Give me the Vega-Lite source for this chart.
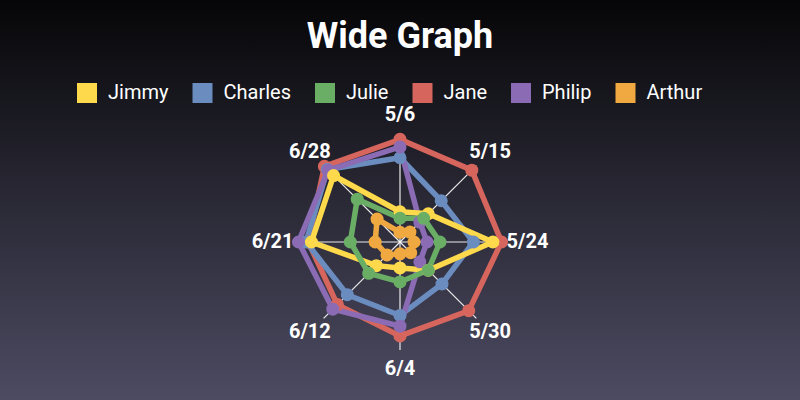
{
  "$schema": "https://vega.github.io/schema/vega-lite/v6.json",
  "width": 800,
  "height": 400,
  "autosize": {"type": "none"},
  "padding": 0,
  "background": "#25242c",
  "title": {
    "text": "Wide Graph",
    "font": "Roboto",
    "fontSize": 36,
    "fontWeight": "bold",
    "color": "#ffffff",
    "anchor": "middle",
    "offset": -56
  },
  "config": {
    "view": {
      "stroke": null,
      "fill": {
        "gradient": "linear",
        "x1": 0, "y1": 0, "x2": 0, "y2": 1,
        "stops": [
          {"offset": 0, "color": "#060608"},
          {"offset": 1, "color": "#4d4b62"}
        ]
      }
    }
  },
  "datasets": {
    "axes": [
      {"date": "5/6"}, {"date": "5/15"}, {"date": "5/24"}, {"date": "5/30"},
      {"date": "6/4"}, {"date": "6/12"}, {"date": "6/21"}, {"date": "6/28"}
    ],
    "scores": [
      {"name": "Jane", "date": "5/6", "value": 95},
      {"name": "Jane", "date": "5/15", "value": 94},
      {"name": "Jane", "date": "5/24", "value": 94},
      {"name": "Jane", "date": "5/30", "value": 90},
      {"name": "Jane", "date": "6/4", "value": 87},
      {"name": "Jane", "date": "6/12", "value": 82},
      {"name": "Jane", "date": "6/21", "value": 85},
      {"name": "Jane", "date": "6/28", "value": 99},
      {"name": "Charles", "date": "5/6", "value": 78},
      {"name": "Charles", "date": "5/15", "value": 54},
      {"name": "Charles", "date": "5/24", "value": 68},
      {"name": "Charles", "date": "5/30", "value": 55},
      {"name": "Charles", "date": "6/4", "value": 68},
      {"name": "Charles", "date": "6/12", "value": 69},
      {"name": "Charles", "date": "6/21", "value": 87},
      {"name": "Charles", "date": "6/28", "value": 95},
      {"name": "Philip", "date": "5/6", "value": 88},
      {"name": "Philip", "date": "5/15", "value": 26},
      {"name": "Philip", "date": "5/24", "value": 25},
      {"name": "Philip", "date": "5/30", "value": 26},
      {"name": "Philip", "date": "6/4", "value": 78},
      {"name": "Philip", "date": "6/12", "value": 88},
      {"name": "Philip", "date": "6/21", "value": 94},
      {"name": "Philip", "date": "6/28", "value": 94},
      {"name": "Jimmy", "date": "5/6", "value": 28},
      {"name": "Jimmy", "date": "5/15", "value": 37},
      {"name": "Jimmy", "date": "5/24", "value": 86},
      {"name": "Jimmy", "date": "5/30", "value": 37},
      {"name": "Jimmy", "date": "6/4", "value": 24},
      {"name": "Jimmy", "date": "6/12", "value": 31},
      {"name": "Jimmy", "date": "6/21", "value": 82},
      {"name": "Jimmy", "date": "6/28", "value": 87},
      {"name": "Julie", "date": "5/6", "value": 22},
      {"name": "Julie", "date": "5/15", "value": 31},
      {"name": "Julie", "date": "5/24", "value": 37},
      {"name": "Julie", "date": "5/30", "value": 37},
      {"name": "Julie", "date": "6/4", "value": 37},
      {"name": "Julie", "date": "6/12", "value": 41},
      {"name": "Julie", "date": "6/21", "value": 46},
      {"name": "Julie", "date": "6/28", "value": 56},
      {"name": "Arthur", "date": "5/6", "value": 9},
      {"name": "Arthur", "date": "5/15", "value": 13},
      {"name": "Arthur", "date": "5/24", "value": 13},
      {"name": "Arthur", "date": "5/30", "value": 14},
      {"name": "Arthur", "date": "6/4", "value": 11},
      {"name": "Arthur", "date": "6/12", "value": 17},
      {"name": "Arthur", "date": "6/21", "value": 23},
      {"name": "Arthur", "date": "6/28", "value": 30}
    ]
  },
  "layer": [
    {
      "data": {"name": "axes"},
      "transform": [
        {"calculate": "indexof(['5/6','5/15','5/24','5/30','6/4','6/12','6/21','6/28'], datum.date) * PI / 4", "as": "angle"},
        {"calculate": "100 * sin(datum.angle)", "as": "ex"},
        {"calculate": "100 * cos(datum.angle)", "as": "ey"},
        {"calculate": "0", "as": "origin"}
      ],
      "mark": {"type": "rule", "color": "#ffffff", "strokeWidth": 1.2, "opacity": 0.9},
      "encoding": {
        "x": {"field": "origin", "type": "quantitative", "scale": {"domain": [-370.37, 370.37], "nice": false, "zero": false}, "axis": null},
        "y": {"field": "origin", "type": "quantitative", "scale": {"domain": [-146.3, 224.07], "nice": false, "zero": false}, "axis": null},
        "x2": {"field": "ex"},
        "y2": {"field": "ey"}
      }
    },
    {
      "data": {"name": "axes"},
      "transform": [
        {"calculate": "indexof(['5/6','5/15','5/24','5/30','6/4','6/12','6/21','6/28'], datum.date) * PI / 4", "as": "angle"},
        {"calculate": "118 * sin(datum.angle)", "as": "lx"},
        {"calculate": "118 * cos(datum.angle)", "as": "ly"}
      ],
      "mark": {"type": "text", "font": "Roboto", "fontSize": 20, "fontWeight": "bold", "color": "#ffffff", "align": "center", "baseline": "middle"},
      "encoding": {
        "x": {"field": "lx", "type": "quantitative", "scale": {"domain": [-370.37, 370.37], "nice": false, "zero": false}, "axis": null},
        "y": {"field": "ly", "type": "quantitative", "scale": {"domain": [-146.3, 224.07], "nice": false, "zero": false}, "axis": null},
        "text": {"field": "date", "type": "nominal"}
      }
    },
    {
      "data": {"name": "scores"},
      "transform": [
        {"calculate": "indexof(['5/6','5/15','5/24','5/30','6/4','6/12','6/21','6/28'], datum.date)", "as": "idx"},
        {"calculate": "datum.value * sin(datum.idx * PI / 4)", "as": "px"},
        {"calculate": "datum.value * cos(datum.idx * PI / 4)", "as": "py"}
      ],
      "mark": {"type": "line", "interpolate": "linear-closed", "strokeWidth": 5.5},
      "encoding": {
        "x": {"field": "px", "type": "quantitative", "scale": {"domain": [-370.37, 370.37], "nice": false, "zero": false}, "axis": null},
        "y": {"field": "py", "type": "quantitative", "scale": {"domain": [-146.3, 224.07], "nice": false, "zero": false}, "axis": null},
        "stroke": {
          "field": "name", "type": "nominal",
          "scale": {"range": ["#f0a840", "#6a8cbf", "#d6665d", "#fdd94b", "#6aad65", "#8a6bb4"]},
          "legend": null
        },
        "detail": {"field": "name", "type": "nominal"},
        "order": {"field": "idx", "type": "quantitative"}
      }
    },
    {
      "data": {"name": "scores"},
      "transform": [
        {"calculate": "indexof(['5/6','5/15','5/24','5/30','6/4','6/12','6/21','6/28'], datum.date)", "as": "idx"},
        {"calculate": "datum.value * sin(datum.idx * PI / 4)", "as": "px"},
        {"calculate": "datum.value * cos(datum.idx * PI / 4)", "as": "py"}
      ],
      "mark": {"type": "point", "filled": true, "size": 170, "opacity": 1, "strokeWidth": 0},
      "encoding": {
        "x": {"field": "px", "type": "quantitative", "scale": {"domain": [-370.37, 370.37], "nice": false, "zero": false}, "axis": null},
        "y": {"field": "py", "type": "quantitative", "scale": {"domain": [-146.3, 224.07], "nice": false, "zero": false}, "axis": null},
        "fill": {
          "field": "name", "type": "nominal",
          "scale": {"domain": ["Jimmy", "Charles", "Julie", "Jane", "Philip", "Arthur"], "range": ["#fdd94b", "#6a8cbf", "#6aad65", "#d6665d", "#8a6bb4", "#f0a840"]},
          "legend": {
            "orient": "none",
            "legendX": 77,
            "legendY": 83,
            "direction": "horizontal",
            "title": null,
            "padding": 0,
            "symbolType": "square",
            "symbolSize": 400,
            "symbolStrokeWidth": 0,
            "symbolOpacity": 1,
            "labelFont": "Roboto",
            "labelFontSize": 20,
            "labelColor": "#ffffff",
            "labelOffset": 11,
            "columnPadding": 23.5
          }
        }
      }
    }
  ]
}
